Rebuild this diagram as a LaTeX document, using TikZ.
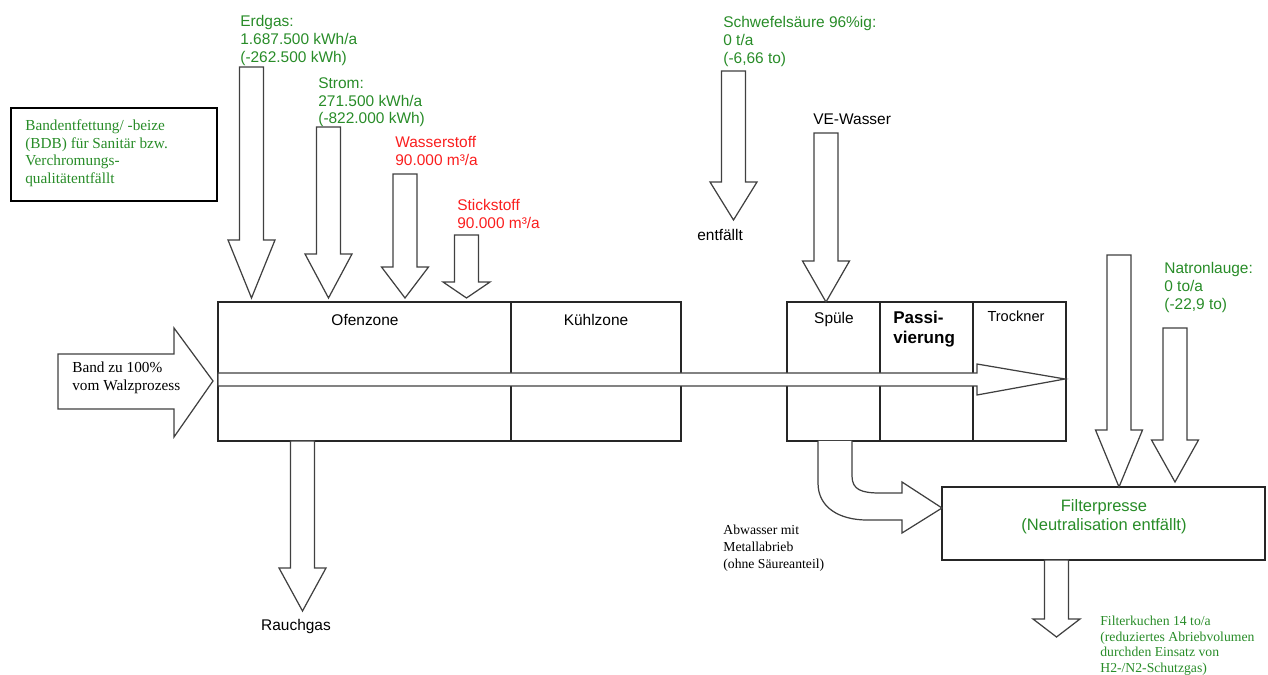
\documentclass[tikz,border=0pt]{standalone}
\usepackage{fontspec}
\setmainfont{Liberation Serif}
\setsansfont{Liberation Sans}
\usepackage{tikz}
\definecolor{grtext}{RGB}{40,140,40}
\definecolor{rdtext}{RGB}{250,30,30}
\tikzset{
  every node/.append style={inner sep=0pt, align=left},
  sanslbl/.style={font=\sffamily\fontsize{8.8}{10.2}\selectfont},
  seriflbl/.style={font=\fontsize{8.7}{10.2}\selectfont},
  smallserif/.style={font=\fontsize{7.8}{9.2}\selectfont},
  flow/.style={draw=black!75, line width=0.7pt, fill=white},
  zone/.style={draw=black!85, line width=0.8pt},
}
% down block arrow: centre x, top, head base, tip
\newcommand{\flowdown}[4]{%
  \draw[flow] ({#1-12},#2) -- ({#1-12},#3) -- ({#1-23.5},#3) -- (#1,#4)
    -- ({#1+23.5},#3) -- ({#1+12},#3) -- ({#1+12},#2) -- cycle;}

\begin{document}
\begin{tikzpicture}[x=0.02cm, y=-0.02cm]
    \useasboundingbox (0,0) rectangle (1268,675);

    % zones
    \draw[zone] (218,302) rectangle (511,441);
    \draw[zone] (511,302) rectangle (681,441);
    \draw[zone] (787,302) rectangle (880,441);
    \draw[zone] (880,302) rectangle (973,441);
    \draw[zone] (973,302) rectangle (1066,441);
    \draw[zone] (942,487) rectangle (1265,560);
    \draw[line width=1pt] (11,108) rectangle (217,201);

    \node[sanslbl, anchor=north] (ofen) at (365,314) {Ofenzone};
    \node[sanslbl, anchor=north] (kuehl) at (596,314) {Kühlzone};
    \node[sanslbl, anchor=north] (spuele) at (834,312) {Spüle};
    \node[font=\sffamily\bfseries\fontsize{9.7}{11.3}\selectfont, anchor=north west] (passiv) at (893,311) {Passi-\\vierung};
    \node[font=\sffamily\fontsize{8.3}{9.8}\selectfont, anchor=north] (trockner) at (1016,311) {Trockner};
    \node[font=\sffamily\fontsize{9.4}{10.8}\selectfont, grtext, align=center, anchor=north] (filter) at (1104,499) {Filterpresse\\(Neutralisation entfällt)};
    \node[seriflbl, grtext, anchor=north west] (bdb) at (25,119) {Bandentfettung/ -beize\\(BDB) für Sanitär bzw.\\Verchromungs-\\qualitätentfällt};

    % labels of the streams
    \node[sanslbl, grtext, anchor=north west] (erdgas) at (240,15) {Erdgas:\\1.687.500 kWh/a\\(-262.500 kWh)};
    \node[sanslbl, grtext, anchor=north west] (strom) at (318,77) {Strom:\\271.500 kWh/a\\(-822.000 kWh)};
    \node[sanslbl, rdtext, anchor=north west] (wasserstoff) at (395,136) {Wasserstoff\\90.000 m³/a};
    \node[sanslbl, rdtext, anchor=north west] (stickstoff) at (457,199) {Stickstoff\\90.000 m³/a};
    \node[sanslbl, grtext, anchor=north west] (schwefel) at (723,16) {Schwefelsäure 96\%ig:\\0 t/a\\(-6,66 to)};
    \node[sanslbl, anchor=north west] (entfaellt) at (697,229) {entfällt};
    \node[sanslbl, anchor=north west] (vewasser) at (813,114) {VE-Wasser};
    \node[sanslbl, grtext, anchor=north west] (natron) at (1164,262) {Natronlauge:\\0 to/a\\(-22,9 to)};
    \node[sanslbl, anchor=north] (rauchgas) at (296,619) {Rauchgas};
    \node[smallserif, anchor=north west, font=\fontsize{7.8}{9.7}\selectfont] (abwasser) at (723,525) {Abwasser mit\\Metallabrieb\\(ohne Säureanteil)};
    \node[smallserif, grtext, anchor=north west, font=\fontsize{7.8}{8.8}\selectfont] (kuchen) at (1100,616) {Filterkuchen 14 to/a\\(reduziertes Abriebvolumen\\durchden Einsatz von\\H2-/N2-Schutzgas)};

    % band through the line
    \draw[flow] (58,354) -- (174,354) -- (174,328) -- (213,381) -- (174,437)
        -- (174,409) -- (58,409) -- cycle;
    \node[seriflbl, anchor=north west] (band) at (72,362) {Band zu 100\%\\vom Walzprozess};
    \draw[flow] (218,373) -- (977,373) -- (977,364) -- (1065,379) -- (977,395)
        -- (977,386) -- (218,386) -- cycle;

    % inputs and outputs
    \flowdown{251.5}{67}{240}{298}
    \flowdown{328.5}{127}{254}{298}
    \flowdown{405}{174}{267}{298}
    \flowdown{466.5}{235}{282}{298}
    \flowdown{733.5}{71}{182}{220}
    \flowdown{826}{133}{261}{302}
    \flowdown{1119}{255}{430}{487}
    \flowdown{1175}{328}{440}{482}
    \flowdown{302.5}{441}{568}{611}
    \flowdown{1056.5}{560}{619}{637}

    % waste water to the filter press
    \draw[flow] (818,441) -- (818,483) .. controls (818,508) and (840,520) .. (867,520)
        -- (902,520) -- (902,533) -- (942,508) -- (902,482) -- (902,493) -- (880,493)
        .. controls (862,493) and (852,490) .. (852,476) -- (852,441);
\end{tikzpicture}
\end{document}
